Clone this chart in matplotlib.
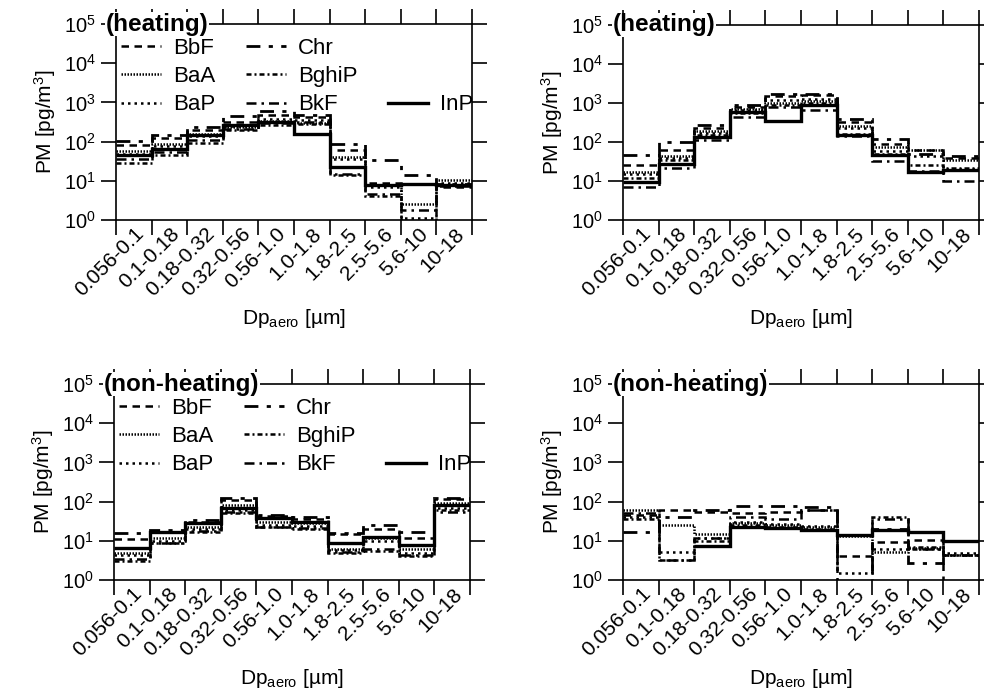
import numpy as np
import matplotlib
matplotlib.use('Agg')
import matplotlib.pyplot as plt
from matplotlib.lines import Line2D

plt.rcParams['font.family'] = ['Liberation Sans', 'DejaVu Sans']
plt.rcParams['mathtext.fontset'] = 'custom'
plt.rcParams['mathtext.rm'] = 'Liberation Sans'
plt.rcParams['mathtext.it'] = 'Liberation Sans:italic'

bins = ['0.056-0.1', '0.1-0.18', '0.18-0.32', '0.32-0.56', '0.56-1.0',
        '1.0-1.8', '1.8-2.5', '2.5-5.6', '5.6-10', '10-18']
species = ['BbF', 'BaA', 'BaP', 'Chr', 'BghiP', 'BkF', 'InP']
nan = np.nan

# heating, panel (a)
heat_a = {
    'BbF':   [80, 120, 195, 315, 470, 420, 60, 9, 8.5, 7],
    'BaA':   [56, 89, 160, 230, 330, 300, 40, 8, 2.6, 10.5],
    'BaP':   [48, 75, 140, 250, 380, 360, 35, 7, 1.1, 9],
    'Chr':   [105, 145, 230, 440, 600, 480, 89, 34, 14, 8.5],
    'BghiP': [28, 45, 90, 200, 260, 280, 14, 4, 0.8, 8],
    'BkF':   [35, 55, 107, 210, 290, 310, 15, 4.5, 1.8, 7.5],
    'InP':   [45, 66, 145, 270, 315, 160, 23, 8, 8.5, 7.8],
}
# heating, panel (b)
heat_b = {
    'BbF':   [25, 62, 230, 800, 1500, 1600, 320, 90, 61, 40],
    'BaA':   [17, 45, 190, 700, 1000, 1100, 260, 75, 61, 35],
    'BaP':   [15, 40, 170, 650, 1200, 1300, 230, 60, 45, 20],
    'Chr':   [46, 100, 280, 910, 1700, 1700, 400, 122, 50, 45],
    'BghiP': [12, 35, 150, 560, 900, 1000, 160, 48, 25, 22],
    'BkF':   [7, 21, 110, 430, 800, 650, 140, 32, 18, 10],
    'InP':   [9.5, 28, 135, 590, 355, 870, 148, 46, 17, 19],
}
# non-heating, panel (a)
nonheat_a = {
    'BbF':   [11, 17, 30, 110, 42, 37, 15, 20, 12, 115],
    'BaA':   [5, 12, 22, 80, 30, 28, 6, 12, 6, 90],
    'BaP':   [4.3, 10, 20, 60, 25, 24, 5.8, 10, 5, 70],
    'Chr':   [15.5, 19, 33, 126, 45, 40, 16, 25, 17, 126],
    'BghiP': [3, 8.7, 17, 50, 22, 20, 5, 5.5, 4, 60],
    'BkF':   [3.5, 9, 18, 55, 23, 21, 5.2, 6, 4.3, 55],
    'InP':   [6.4, 17, 28, 68, 39, 31, 8.7, 12.6, 7.8, 82],
}
# non-heating, panel (b)
nonheat_b = {
    'BbF':   [46, 61, 55, 50, 55, 60, 4, 9.5, 10.5, 0.5],
    'BaA':   [61, 25, 15, 28, 25, 22, 13, 5.3, 6.4, 4.4],
    'BaP':   [40, 5.3, 12, 30, 27, 24, 1.5, 6, 6, 5],
    'Chr':   [17, 41, 61, 75, 78, 72, 0.5, 20, 2.7, 10],
    'BghiP': [35, 3.2, 10, 25, 22, 20, 14, 41, 7, 4.4],
    'BkF':   [50, 3.2, 12, 40, 35, 60, 0.5, 35, 6, 4.4],
    'InP':   [nan, nan, 7.4, 23, 21, 19, 14, 19, 17, 10],
}

styles = {
    'BbF':   dict(lw=1.8, dashes=(3, 2.2)),
    'BaA':   dict(lw=1.8, dashes=(0.6, 0.6)),
    'BaP':   dict(lw=1.8, dashes=(1, 1.6)),
    'Chr':   dict(lw=2.0, dashes=(5, 3, 1.5, 3)),
    'BghiP': dict(lw=1.8, dashes=(2, 1.2, 0.8, 1.2)),
    'BkF':   dict(lw=1.8, dashes=(4, 2, 1, 2)),
    'InP':   dict(lw=2.4),
}

W, H = 984, 697
fig = plt.figure(figsize=(W / 100, H / 100), dpi=100, facecolor='w')

boxes = [  # left, top, right, bottom in pixels
    (116, 24, 472, 220),
    (623, 25, 979, 220),
    (114, 384, 470, 580),
    (623, 384, 979, 580),
]
panels = [heat_a, heat_b, nonheat_a, nonheat_b]
titles = ['(heating)', '(heating)', '(non-heating)', '(non-heating)']
edges = np.arange(len(bins) + 1)

for k in range(4):
    l, t, r, b = boxes[k]
    ax = fig.add_axes([l / W, 1 - b / H, (r - l) / W, (b - t) / H])
    data = panels[k]
    handles = {}
    for sp in species:
        st = styles[sp]
        ls = (0, st['dashes']) if 'dashes' in st else '-'
        ax.stairs(np.array(data[sp], dtype=float), edges, baseline=None,
                  color='k', linewidth=st['lw'], linestyle=ls)
        handles[sp] = Line2D([], [], color='k', linewidth=st['lw'], linestyle=ls)

    ax.set_yscale('log')
    ax.set_ylim(1, 1e5)
    ax.set_xlim(0, len(bins))
    ax.yaxis.set_minor_locator(matplotlib.ticker.NullLocator())
    ax.set_yticks([1, 10, 100, 1000, 1e4, 1e5])
    ax.set_yticklabels(['$10^{%d}$' % i for i in range(6)], fontsize=14.5)
    ax.set_xticks(edges)
    ax.set_xticklabels([])
    ax.set_xticks(edges[:-1] + 0.5, minor=True)
    ax.set_xticklabels(bins, minor=True, rotation=45, ha='right', va='top',
                       rotation_mode='anchor', fontsize=15)
    ax.tick_params(axis='x', which='minor', length=0, pad=3)
    ax.tick_params(which='major', direction='out', length=11, width=1.2,
                   top=True, right=True)
    for s in ax.spines.values():
        s.set_linewidth(1.2)
    ax.set_ylabel('PM [pg/m$^3$]', fontsize=15, labelpad=4)
    ax.set_xlabel(r'Dp$_{\mathrm{aero}}$ [µm]', fontsize=15, labelpad=5)
    ax.text(-0.03, 1.0, titles[k], transform=ax.transAxes, ha='left', va='center',
            fontsize=17.5, fontweight='bold', zorder=10,
            bbox=dict(facecolor='white', edgecolor='none', pad=0.5))

    if k in (0, 2):
        blank = Line2D([], [], color='none')
        hl = [handles['BbF'], handles['BaA'], handles['BaP'],
              handles['Chr'], handles['BghiP'], handles['BkF'],
              blank, blank, handles['InP']]
        lab = ['BbF', 'BaA', 'BaP', 'Chr', 'BghiP', 'BkF', '', '', 'InP']
        ax.legend(hl, lab, ncol=3, loc='upper left', bbox_to_anchor=(-0.01, 0.975),
                  frameon=False, fontsize=16, handlelength=1.8, handletextpad=0.55,
                  columnspacing=1.35, labelspacing=0.33, borderaxespad=0.0)

fig.savefig('out.png', dpi=100)
